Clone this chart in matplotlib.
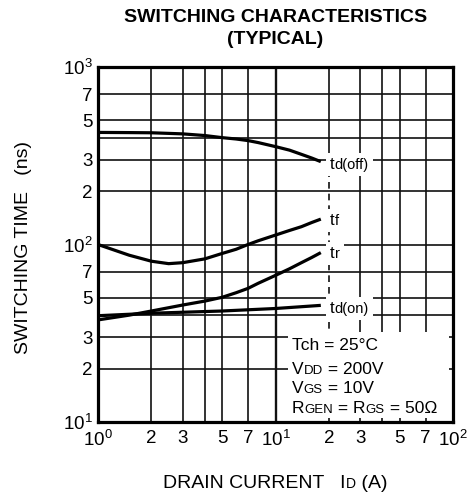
import matplotlib
matplotlib.use("Agg")
import matplotlib.pyplot as plt
from matplotlib.patches import Rectangle
from matplotlib.ticker import NullLocator

plt.rcParams["font.family"] = ["Liberation Sans", "DejaVu Sans"]
plt.rcParams["mathtext.fontset"] = "custom"
plt.rcParams["mathtext.rm"] = "Liberation Sans"
plt.rcParams["mathtext.it"] = "Liberation Sans:italic"

# ---- data (ID in A, time in ns) ----
td_off_id = [1, 1.5, 2, 3, 4, 5, 6, 7, 8, 10, 12, 14, 16, 18]
td_off_t = [428, 427, 426, 420, 411, 400, 393, 385, 375, 356, 340, 322, 307, 293]

tf_id = [1, 1.5, 2, 2.5, 3, 4, 5, 6, 7, 8, 10, 12, 14, 16, 18]
tf_t = [100, 87, 80.5, 78, 79, 83, 89, 94, 100, 105, 113, 120, 126, 133, 139]

tr_id = [1, 1.5, 2, 3, 4, 5, 6, 7, 8, 10, 12, 14, 16, 18]
tr_t = [37.6, 40, 42.2, 45.6, 48, 50.4, 53.5, 56.6, 60.5, 67, 73, 79, 84.5, 90]

td_on_id = [1, 2, 5, 10, 18]
td_on_t = [39.7, 41, 42.2, 43.6, 45.4]

x_grid = [2, 3, 4, 5, 7, 10, 30, 40, 50, 70]
y_grid = [20, 30, 40, 50, 70, 100, 200, 300, 400, 500, 700]

x_ticks = [1, 2, 3, 5, 7, 10, 20, 30, 50, 70, 100]
x_labels = [r"$\mathregular{10^{0}}$", "2", "3", "5", "7", r"$\mathregular{10^{1}}$",
            "2", "3", "5", "7", r"$\mathregular{10^{2}}$"]
y_ticks = [10, 20, 30, 50, 70, 100, 200, 300, 500, 700, 1000]
y_labels = [r"$\mathregular{10^{1}}$", "2", "3", "5", "7", r"$\mathregular{10^{2}}$",
            "2", "3", "5", "7", r"$\mathregular{10^{3}}$"]

W, H = 473, 492
fig = plt.figure(figsize=(W / 100, H / 100), dpi=100)
ax = fig.add_axes([98 / W, 1 - 422 / H, 355 / W, 355 / H])
ax.set_xscale("log")
ax.set_yscale("log")
ax.set_xlim(1, 100)
ax.set_ylim(10, 1000)

# grid drawn by hand so the boxes can cut it
gc = "#111111"
for xv in x_grid:
    ax.vlines(xv, 10, 1000, color=gc, lw=1.7 if xv == 10 else 1.2, zorder=1)
ax.vlines(20, 330, 1000, color=gc, lw=1.2, zorder=1)
ax.vlines(20, 10, 330, color=gc, lw=1.2, linestyles=(0, (4, 3)), zorder=1)
for yv in y_grid:
    ax.hlines(yv, 1, 100, color=gc, lw=1.2, zorder=1)

# curves
for xs, ys in [(td_off_id, td_off_t), (tf_id, tf_t), (tr_id, tr_t), (td_on_id, td_on_t)]:
    ax.plot(xs, ys, color="black", lw=2.3, solid_capstyle="butt", zorder=3)

ax.set_xticks(x_ticks, x_labels)
ax.set_yticks(y_ticks, y_labels)
ax.xaxis.set_minor_locator(NullLocator())
ax.yaxis.set_minor_locator(NullLocator())
ax.tick_params(axis="both", length=0, labelsize=13.5)
ax.tick_params(axis="x", pad=6)
ax.tick_params(axis="y", pad=4)
for sp in ax.spines.values():
    sp.set_linewidth(2.3)
    sp.set_zorder(4)

renderer = fig.canvas.get_renderer()


def rich(x_px, y_px, parts, pad=None):
    # pieces of text on one baseline; x_px, y_px measured from image top-left
    x = x_px / W
    y = 1 - y_px / H
    exts = []
    for s, size in parts:
        t = fig.text(x, y, s, fontsize=size, va="baseline", ha="left", zorder=6)
        ex = t.get_window_extent(renderer=renderer)
        exts.append(ex)
        x += ex.width / W
    if pad is not None:
        x0 = min(e.x0 for e in exts) - pad[0]
        x1 = max(e.x1 for e in exts) + pad[0]
        y0 = min(e.y0 for e in exts) - pad[1]
        y1 = max(e.y1 for e in exts) + pad[1]
        fig.add_artist(Rectangle((x0 / W, y0 / H), (x1 - x0) / W, (y1 - y0) / H,
                                 transform=fig.transFigure, facecolor="white",
                                 edgecolor="none", zorder=5))


# curve labels
rich(330, 169, [("t", 12), ("d(off)", 10.5)], pad=(4, 4))
rich(330, 225, [("t", 12), ("f", 10.5)], pad=(4, 4))
rich(330, 258, [("t", 12), ("r", 10.5)], pad=(4, 4))
rich(330, 313, [("t", 12), ("d(on)", 10.5)], pad=(4, 4))

# condition box
fig.add_artist(Rectangle((288 / W, 1 - 418 / H), 161 / W, 86 / H, transform=fig.transFigure,
                         facecolor="white", edgecolor="none", zorder=5))
rich(292, 350, [("Tch = 25°C", 12.5)])
rich(292, 374, [("V", 12.5), ("DD", 9.5), (" = 200V", 12.5)])
rich(292, 393, [("V", 12.5), ("GS", 9.5), (" = 10V", 12.5)])
rich(292, 413, [("R", 12.5), ("GEN", 9.5), (" = R", 12.5), ("GS", 9.5), (" = 50Ω", 12.5)])

# titles and axis labels
fig.text(275.5 / W, 1 - 18 / H, "SWITCHING CHARACTERISTICS", fontsize=14,
         fontweight="bold", ha="center", va="center")
fig.text(275.5 / W, 1 - 40 / H, "(TYPICAL)", fontsize=14,
         fontweight="bold", ha="center", va="center")
fig.text(23.5 / W, 1 - 247 / H, "SWITCHING TIME   (ns)", fontsize=14,
         rotation=90, ha="center", va="center")
rich(163, 488, [("DRAIN CURRENT   I", 14), ("D", 10), (" (A)", 14)])

fig.savefig("out.png", dpi=100)
